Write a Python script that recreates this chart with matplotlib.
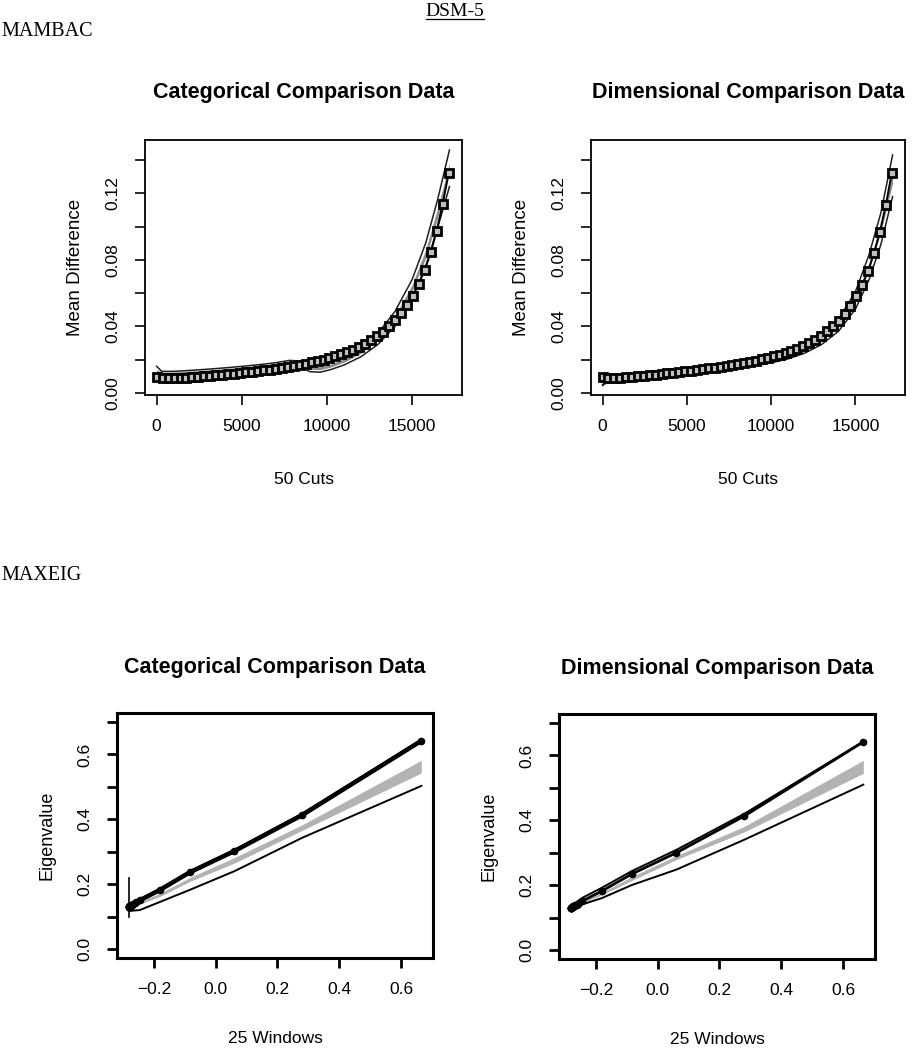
#!/usr/bin/env python3
"""DSM-5 taxometric plots: MAMBAC and MAXEIG curves against comparison data."""

import numpy as np
import matplotlib
matplotlib.use("Agg")
import matplotlib.pyplot as plt
from matplotlib.lines import Line2D

SANS = "Liberation Sans"
SERIF = "Liberation Serif"

# ---- MAMBAC: 50 cuts ----
cut_x = [0, 350, 700, 1050, 1400, 1750, 2100, 2450, 2800, 3150,
         3500, 3850, 4200, 4550, 4900, 5250, 5600, 5950, 6300, 6650,
         7000, 7350, 7700, 8050, 8400, 8750, 9100, 9450, 9800, 10150,
         10500, 10850, 11200, 11550, 11900, 12250, 12600, 12950, 13300, 13650,
         14000, 14350, 14700, 15050, 15400, 15750, 16100, 16450, 16800, 17150]

cat_mambac = [0.0098, 0.0092, 0.0089, 0.0089, 0.0090, 0.0092, 0.0094, 0.0097, 0.0100, 0.0103,
              0.0106, 0.0109, 0.0112, 0.0116, 0.0120, 0.0124, 0.0128, 0.0132, 0.0136, 0.0141,
              0.0146, 0.0151, 0.0157, 0.0163, 0.0170, 0.0177, 0.0184, 0.0192, 0.0200, 0.0210,
              0.0221, 0.0233, 0.0246, 0.0261, 0.0278, 0.0297, 0.0318, 0.0342, 0.0369, 0.0400,
              0.0436, 0.0478, 0.0527, 0.0585, 0.0655, 0.0740, 0.0845, 0.0975, 0.1135, 0.1320]

dim_mambac = [0.0098, 0.0093, 0.0092, 0.0093, 0.0095, 0.0098, 0.0101, 0.0104, 0.0108, 0.0111,
              0.0115, 0.0119, 0.0123, 0.0127, 0.0131, 0.0135, 0.0139, 0.0143, 0.0148, 0.0153,
              0.0158, 0.0163, 0.0169, 0.0175, 0.0181, 0.0188, 0.0195, 0.0203, 0.0211, 0.0220,
              0.0230, 0.0241, 0.0253, 0.0267, 0.0283, 0.0301, 0.0321, 0.0344, 0.0370, 0.0400,
              0.0435, 0.0476, 0.0524, 0.0581, 0.0650, 0.0735, 0.0840, 0.0970, 0.1130, 0.1320]

# comparison data (categorical) for MAMBAC
cat_cmp_x = [0, 300, 1000, 2000, 3000, 4000, 5000, 6000, 7000, 7800, 8400,
             9000, 9600, 10200, 11000, 12000, 13000, 14000, 15000, 15800, 16500, 17200]
cat_cmp_upper = [0.0160, 0.0130, 0.0130, 0.0136, 0.0143, 0.0151, 0.0160, 0.0170, 0.0182, 0.0196, 0.0192,
                 0.0172, 0.0170, 0.0185, 0.0218, 0.0275, 0.0360, 0.0490, 0.0680, 0.0900, 0.1160, 0.1460]
cat_cmp_hi = [0.0140, 0.0125, 0.0126, 0.0132, 0.0139, 0.0147, 0.0156, 0.0166, 0.0178, 0.0192, 0.0186,
              0.0160, 0.0158, 0.0173, 0.0205, 0.0260, 0.0342, 0.0465, 0.0650, 0.0860, 0.1110, 0.1380]
cat_cmp_lo = [0.0125, 0.0118, 0.0119, 0.0125, 0.0132, 0.0140, 0.0149, 0.0159, 0.0170, 0.0183, 0.0172,
              0.0142, 0.0140, 0.0155, 0.0185, 0.0238, 0.0318, 0.0435, 0.0610, 0.0810, 0.1050, 0.1320]
cat_cmp_lower = [0.0118, 0.0112, 0.0113, 0.0119, 0.0126, 0.0134, 0.0142, 0.0152, 0.0163, 0.0175, 0.0160,
                 0.0128, 0.0125, 0.0140, 0.0168, 0.0218, 0.0292, 0.0400, 0.0565, 0.0760, 0.0990, 0.1240]

# comparison data (dimensional) for MAMBAC
dim_cmp_x = [0, 500, 1000, 2000, 3000, 4000, 5000, 6000, 7000, 8000,
             9000, 10000, 11000, 12000, 13000, 14000, 15000, 15800, 16500, 17200]
dim_cmp_upper = [0.0050, 0.0085, 0.0090, 0.0098, 0.0107, 0.0117, 0.0128, 0.0140, 0.0153, 0.0168,
                 0.0186, 0.0208, 0.0238, 0.0282, 0.0345, 0.0445, 0.0610, 0.0830, 0.1080, 0.1430]
dim_cmp_hi = [0.0072, 0.0089, 0.0092, 0.0099, 0.0107, 0.0116, 0.0126, 0.0137, 0.0149, 0.0163,
              0.0180, 0.0200, 0.0227, 0.0268, 0.0328, 0.0420, 0.0575, 0.0780, 0.1015, 0.1340]
dim_cmp_lo = [0.0062, 0.0085, 0.0087, 0.0093, 0.0101, 0.0110, 0.0120, 0.0131, 0.0143, 0.0156,
              0.0172, 0.0191, 0.0216, 0.0255, 0.0311, 0.0398, 0.0545, 0.0740, 0.0965, 0.1260]
dim_cmp_lower = [0.0045, 0.0080, 0.0084, 0.0090, 0.0097, 0.0105, 0.0114, 0.0124, 0.0135, 0.0148,
                 0.0163, 0.0181, 0.0205, 0.0240, 0.0292, 0.0372, 0.0505, 0.0680, 0.0890, 0.1180]

# ---- MAXEIG: 25 windows ----
win_x = [-0.281, -0.281, -0.280, -0.280, -0.279, -0.279, -0.278, -0.278, -0.277, -0.277,
         -0.276, -0.275, -0.274, -0.273, -0.271, -0.269, -0.266, -0.262, -0.257, -0.245,
         -0.180, -0.084, 0.061, 0.280, 0.665]
cat_eig = [0.128, 0.128, 0.129, 0.130, 0.130, 0.131, 0.131, 0.132, 0.132, 0.133,
           0.133, 0.134, 0.134, 0.135, 0.136, 0.137, 0.139, 0.141, 0.144, 0.150,
           0.182, 0.236, 0.302, 0.413, 0.642]
dim_eig = [0.128, 0.128, 0.129, 0.129, 0.130, 0.130, 0.131, 0.131, 0.132, 0.132,
           0.133, 0.133, 0.134, 0.134, 0.135, 0.136, 0.138, 0.140, 0.143, 0.150,
           0.182, 0.234, 0.300, 0.413, 0.642]

eig_cmp_x = [-0.281, -0.245, -0.180, -0.084, 0.061, 0.280, 0.665]
cat_eig_upper = [0.134, 0.154, 0.186, 0.240, 0.306, 0.418, 0.646]
cat_eig_hi = [0.132, 0.146, 0.172, 0.220, 0.282, 0.383, 0.582]
cat_eig_lo = [0.128, 0.138, 0.162, 0.208, 0.265, 0.366, 0.543]
cat_eig_lower = [0.117, 0.120, 0.145, 0.182, 0.240, 0.343, 0.503]
cat_eig_vline = [0.100, 0.220]

dim_eig_upper = [0.134, 0.160, 0.192, 0.243, 0.309, 0.420, 0.643]
dim_eig_hi = [0.134, 0.150, 0.178, 0.226, 0.291, 0.381, 0.585]
dim_eig_lo = [0.130, 0.144, 0.170, 0.214, 0.279, 0.364, 0.545]
dim_eig_lower = [0.127, 0.140, 0.160, 0.200, 0.248, 0.340, 0.510]

W, H = 915, 1050


def px_axes(fig, left, right, top, bottom):
    return fig.add_axes([left / W, 1 - bottom / H, (right - left) / W, (bottom - top) / H])


def style_axes(ax, spine_w, title, xlabel, ylabel, ylabel_size):
    for s in ax.spines.values():
        s.set_linewidth(spine_w)
    ax.tick_params(direction="out", length=7.5, width=spine_w * 0.9, pad=10,
                   labelsize=12.5)
    for lab in ax.get_xticklabels() + ax.get_yticklabels():
        lab.set_fontfamily(SANS)
    for lab in ax.get_yticklabels():
        lab.set_rotation(90)
        lab.set_va("center")
    ax.text(0.5, 1.185, title, transform=ax.transAxes, ha="center", va="center",
            fontsize=15.5, fontweight="bold", family=SANS)
    ax.set_xlabel(xlabel, fontsize=12.5, family=SANS)
    ax.set_ylabel(ylabel, fontsize=ylabel_size, family=SANS)
    ax.xaxis.label.set_va("center")
    ax.yaxis.label.set_va("center")
    ax.xaxis.set_label_coords(0.5, -0.33)
    ax.yaxis.set_label_coords(-0.22, 0.5)


def mambac_panel(ax, y, cx, upper, hi, lo, lower, title):
    ax.fill_between(cx, lo, hi, color="#8c8c8c", lw=0)
    ax.plot(cx, upper, color="#202020", lw=1.1)
    ax.plot(cx, lower, color="#202020", lw=1.1)
    ax.plot(cut_x, y, color="black", lw=1.4, marker="s", markersize=5.6,
            mfc="#bfbfbf", mec="black", mew=2.0)
    xr = max(cut_x) - min(cut_x)
    ax.set_xlim(min(cut_x) - 0.04 * xr, max(cut_x) + 0.04 * xr + 100)
    ax.set_ylim(-0.0012, 0.152)
    ax.set_xticks([0, 5000, 10000, 15000])
    ax.set_yticks([0, 0.02, 0.04, 0.06, 0.08, 0.10, 0.12, 0.14])
    ax.set_yticklabels(["0.00", "", "0.04", "", "0.08", "", "0.12", ""])
    style_axes(ax, 1.3, title, "50 Cuts", "Mean Difference", 13.5)


def maxeig_panel(ax, y, upper, hi, lo, lower, title, lw, vline=None):
    ax.fill_between(eig_cmp_x, lo, hi, color="#b3b3b3", lw=0)
    ax.plot(eig_cmp_x, lower, color="black", lw=1.4)
    ax.plot(eig_cmp_x, upper, color="black", lw=1.4)
    if vline is not None:
        ax.plot([win_x[0], win_x[0]], vline, color="black", lw=1.2)
    ax.plot(win_x, y, color="black", lw=lw, marker="o", markersize=4.5)
    xr = max(win_x) - min(win_x)
    ax.set_xlim(min(win_x) - 0.04 * xr, max(win_x) + 0.04 * xr)
    ax.set_ylim(-0.028, 0.728)
    ax.set_xticks([-0.2, 0.0, 0.2, 0.4, 0.6])
    ax.set_xticklabels(["\u22120.2", "0.0", "0.2", "0.4", "0.6"])
    ax.set_yticks([0, 0.1, 0.2, 0.3, 0.4, 0.5, 0.6, 0.7])
    ax.set_yticklabels(["0.0", "", "0.2", "", "0.4", "", "0.6", ""])
    style_axes(ax, 2.2, title, "25 Windows", "Eigenvalue", 13)


fig = plt.figure(figsize=(W / 100, H / 100), dpi=100)

ax1 = px_axes(fig, 145, 462, 140, 395)
mambac_panel(ax1, cat_mambac, cat_cmp_x, cat_cmp_upper, cat_cmp_hi, cat_cmp_lo,
             cat_cmp_lower, "Categorical Comparison Data")
ax2 = px_axes(fig, 591, 905, 140, 395)
mambac_panel(ax2, dim_mambac, dim_cmp_x, dim_cmp_upper, dim_cmp_hi, dim_cmp_lo,
             dim_cmp_lower, "Dimensional Comparison Data")
ax3 = px_axes(fig, 117, 433, 713, 958)
maxeig_panel(ax3, cat_eig, cat_eig_upper, cat_eig_hi, cat_eig_lo, cat_eig_lower,
             "Categorical Comparison Data", 3.2, vline=cat_eig_vline)
ax4 = px_axes(fig, 559, 875, 714, 959)
maxeig_panel(ax4, dim_eig, dim_eig_upper, dim_eig_hi, dim_eig_lo, dim_eig_lower,
             "Dimensional Comparison Data", 2.0)

# header texts
head = fig.text(455 / W, 1 - 12 / H, "DSM-5", ha="center", va="center",
                fontsize=14, family=SERIF)
fig.text(1 / W, 1 - 32 / H, "MAMBAC", ha="left", va="center", fontsize=14.5, family=SERIF)
fig.text(1 / W, 1 - 575 / H, "MAXEIG", ha="left", va="center", fontsize=14.5, family=SERIF)

# underline DSM-5
fig.canvas.draw()
bb = head.get_window_extent().transformed(fig.transFigure.inverted())
fig.add_artist(Line2D([bb.x0, bb.x1], [bb.y0 + 0.001, bb.y0 + 0.001],
                      transform=fig.transFigure, color="black", lw=0.9))

fig.savefig("out.png", dpi=100)
